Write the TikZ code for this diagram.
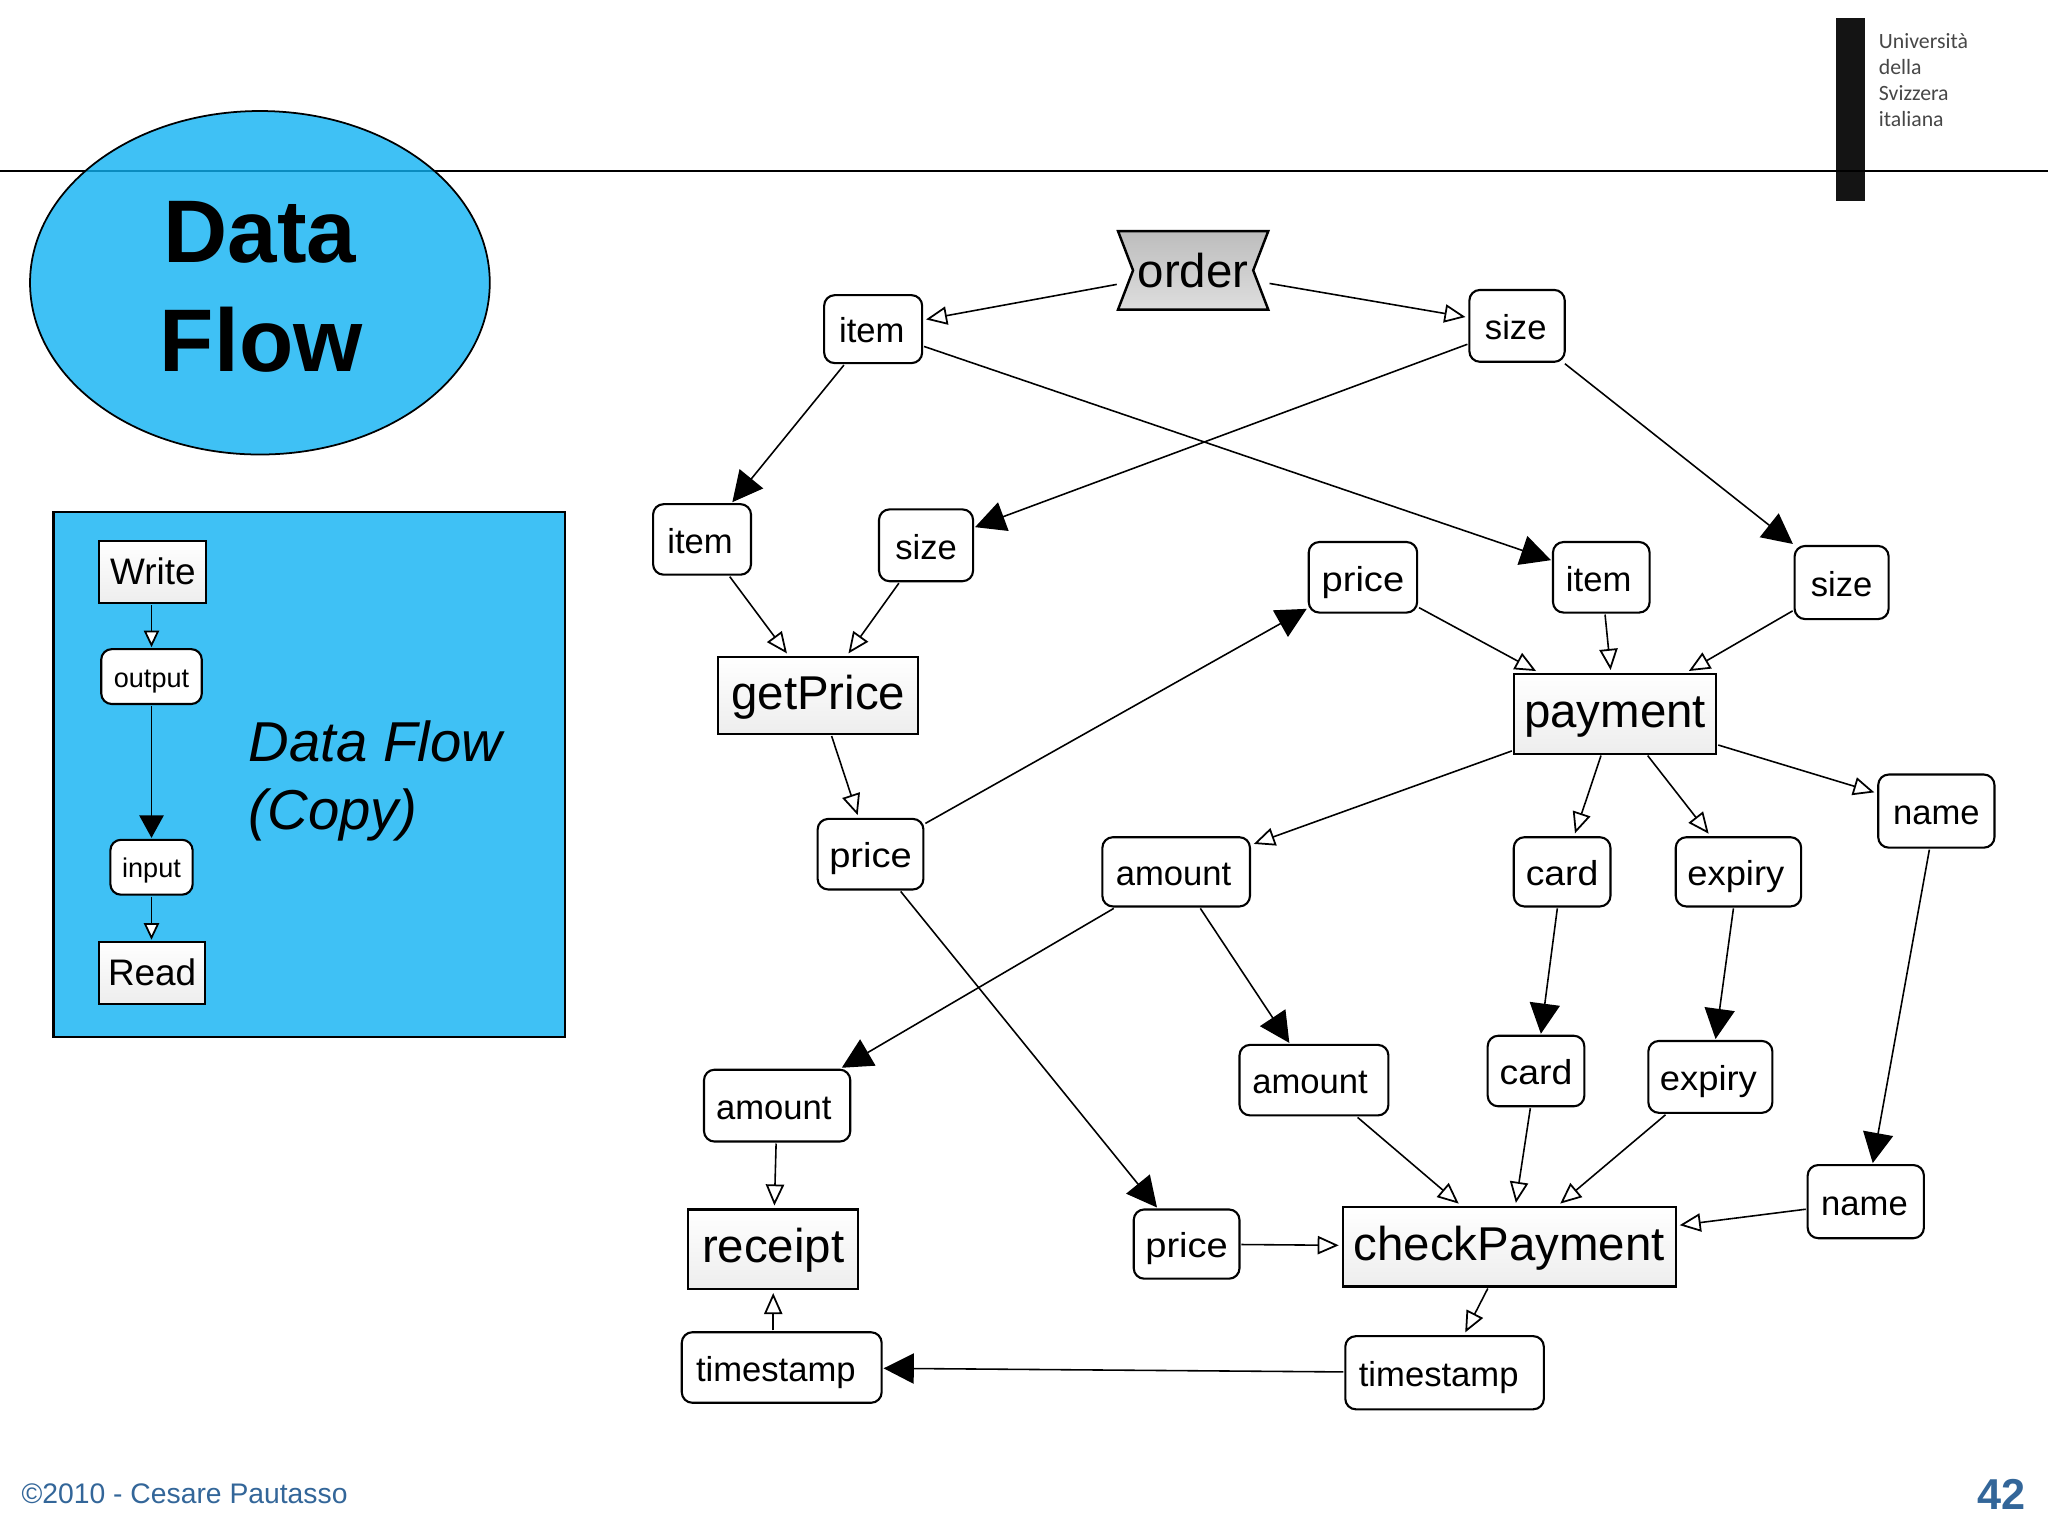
\documentclass[tikz,border=0pt]{standalone}
\usepackage{fontspec}
\setmainfont{Liberation Sans}
\newfontfamily\logofont{Carlito}
\usetikzlibrary{arrows.meta}
\def\U{0.013061cm}
\newdimen\UU \UU=0.013061cm
\definecolor{skyfill}{HTML}{3FC1F5}
\definecolor{footblue}{HTML}{336699}
\definecolor{lineteal}{HTML}{0A8CC0}
\newcommand\lft[2]{#2\kern#1\UU}
\newcommand\wide[2]{{\addfontfeatures{FakeStretch=#1}#2}}
\tikzset{
  x=0.013061cm, y=-0.013061cm,
  datanode/.style={draw=black, line width=0.6pt, rounded corners=3pt, fill=white, inner sep=0pt, outer sep=1.5*\U,
    font=\fontsize{9.85pt}{11pt}\selectfont, text height=0.78em, text depth=0em},
  smallnode/.style={datanode, font=\fontsize{7.7pt}{9pt}\selectfont, text height=0.72em, text depth=0.12em},
  actnode/.style={draw=black, line width=0.6pt, top color=white, bottom color=black!7, inner sep=0pt, outer sep=1.5*\U,
    font=\fontsize{13.5pt}{15pt}\selectfont, text height=0.77em, text depth=0em},
  ctlnode/.style={actnode, font=\fontsize{10.5pt}{12pt}\selectfont, text height=0.72em},
  hourfill/.style={top color=black!26, bottom color=black!13},
  openflow/.style={line width=0.45pt, shorten >=1.5*\U, -{Triangle[fill=white, length=6pt, width=5.2pt, line width=0.5pt]}},
  fullflow/.style={line width=0.45pt, -{Triangle[length=8.6pt, width=8.6pt]}},
  legendopen/.style={line width=0.5pt, -{Triangle[fill=white, length=4.7pt, width=4.3pt, line width=0.5pt]}},
  legendfull/.style={line width=0.5pt, -{Triangle[length=6.4pt, width=6.9pt]}},
  headtext/.style={font=\fontsize{25.3pt}{25.3pt}\bfseries\selectfont, inner sep=0pt, anchor=base},
  slidetext/.style={font=\fontsize{16pt}{16pt}\itshape\selectfont, inner sep=0pt, anchor=base west},
  logotext/.style={font=\fontsize{6.2pt}{6.3pt}\logofont\selectfont, text=black!72, inner sep=0pt, anchor=base west},
  foottext/.style={text=footblue, inner sep=0pt}
}
\begin{document}
\begin{tikzpicture}
\useasboundingbox (0,0) rectangle (1568,1176);
\fill[white] (0,0) rectangle (1568,1176);
% header
\fill[black!92] (1405.5,14) rectangle (1428,154);
\draw[line width=0.75pt] (0,131) -- (1568,131);
\node[logotext] (l1) at (1438,37) {Università};
\node[logotext] (l2) at (1438,57) {della};
\node[logotext] (l3) at (1438,77) {Svizzera};
\node[logotext] (l4) at (1438,97) {italiana};
% title bubble
\fill[skyfill] (199,216.5) ellipse [x radius=176, y radius=131.5];
\draw[line width=0.75pt, lineteal] (65.2,131) -- (332.8,131);
\draw[line width=0.5pt] (199,216.5) ellipse [x radius=176, y radius=131.5];
\node[headtext] (t1) at (199,201) {Data};
\node[headtext] (t2) at (200,284.6) {Flow};
% legend
\draw[line width=0.6pt, fill=skyfill] (41,392) rectangle (432.5,794);
\node[ctlnode, minimum width=82*\U, minimum height=48*\U] (write) at (117,438) {Write};
\node[smallnode, minimum width=77*\U, minimum height=42*\U] (output) at (116,518) {output};
\node[smallnode, minimum width=63*\U, minimum height=42*\U] (input) at (116,664) {input};
\node[ctlnode, minimum width=81*\U, minimum height=48*\U] (read) at (116.5,745) {Read};
\draw[legendopen] (output |- write.south) -- (output);
\draw[legendfull] (output) -- (input);
\draw[legendopen] (input) -- (input |- read.north);
\node[slidetext] (c1) at (190,583) {Data Flow};
\node[slidetext] (c2) at (190,635) {(Copy)};
% order
\shade[hourfill] (856,177) -- (971,177) -- (959.5,207) -- (971,237) -- (856,237) -- (867.5,207) -- cycle;
\draw[line width=0.7pt] (856,177) -- (971,177) -- (959.5,207) -- (971,237) -- (856,237) -- (867.5,207) -- cycle;
\node[inner sep=0pt, outer sep=1*\U, minimum width=115*\U, minimum height=60*\U, font=\fontsize{13.5pt}{15pt}\selectfont, text height=0.96em, text depth=0em] (order) at (913.5,207) {order};
% data
\node[datanode, minimum width=75*\U, minimum height=52*\U] (item1) at (668.5,252) {\lft{2}{item}};
\node[datanode, minimum width=73*\U, minimum height=55*\U] (size1) at (1161.5,249.5) {\lft{2}{size}};
\node[datanode, minimum width=75*\U, minimum height=54*\U] (item2) at (537.5,413) {\lft{3}{item}};
\node[datanode, minimum width=72*\U, minimum height=55*\U] (size2) at (709,417.5) {size};
\node[datanode, minimum width=83*\U, minimum height=54*\U] (price1) at (1043.5,442) {\wide{1.1}{price}};
\node[datanode, minimum width=74*\U, minimum height=54*\U] (item3) at (1226,442) {\lft{4}{item}};
\node[datanode, minimum width=72*\U, minimum height=56*\U] (size3) at (1410,446) {size};
\node[datanode, minimum width=89*\U, minimum height=56*\U] (name1) at (1482.5,621) {name};
\node[datanode, minimum width=81*\U, minimum height=54*\U] (price2) at (666.5,654) {\wide{1.1}{price}};
\node[datanode, minimum width=113*\U, minimum height=53*\U] (amount1) at (900.5,667.5) {\lft{4}{amount}};
\node[datanode, minimum width=74*\U, minimum height=53*\U] (card1) at (1196,667.5) {\wide{1.08}{card}};
\node[datanode, minimum width=96*\U, minimum height=53*\U] (expiry1) at (1331,667.5) {\lft{4}{\wide{1.05}{expiry}}};
\node[datanode, minimum width=114*\U, minimum height=54*\U] (amount3) at (1006,827) {\lft{6}{amount}};
\node[datanode, minimum width=74*\U, minimum height=54*\U] (card2) at (1176,820) {\wide{1.08}{card}};
\node[datanode, minimum width=95*\U, minimum height=55*\U] (expiry2) at (1309.5,824.5) {\lft{3}{\wide{1.05}{expiry}}};
\node[datanode, minimum width=112*\U, minimum height=55*\U] (amount2) at (595,846.5) {\lft{5}{amount}};
\node[datanode, minimum width=89*\U, minimum height=56*\U] (name2) at (1428.5,920) {\lft{2}{name}};
\node[datanode, minimum width=81*\U, minimum height=53*\U] (price3) at (908.5,952.5) {\wide{1.1}{price}};
\node[datanode, minimum width=153*\U, minimum height=54*\U] (stamp1) at (598.5,1047) {\lft{9}{timestamp}};
\node[datanode, minimum width=152*\U, minimum height=56*\U] (stamp2) at (1106,1051) {\lft{9}{timestamp}};
% activities
\node[actnode, minimum width=153*\U, minimum height=59*\U] (getprice) at (626.5,532.5) {getPrice};
\node[actnode, minimum width=155*\U, minimum height=61*\U] (payment) at (1236.5,546.5) {payment};
\node[actnode, minimum width=130*\U, minimum height=61*\U] (receipt) at (592,956.5) {receipt};
\node[actnode, minimum width=255*\U, minimum height=61*\U] (check) at (1155.5,954.5) {checkPayment};
% edges
\draw[openflow] (order) -- (item1);
\draw[openflow] (order) -- (size1);
\draw[fullflow] (item1) -- (item2);
\draw[fullflow] (size1) -- (size2);
\draw[fullflow] (item1) -- (item3);
\draw[fullflow] (size1) -- (size3);
\draw[openflow] (item2) -- (getprice);
\draw[openflow] (size2) -- (getprice);
\draw[openflow] (getprice) -- (price2);
\draw[fullflow] (price2) -- (price1);
\draw[openflow] (price1) -- (payment);
\draw[openflow] (item3) -- (payment);
\draw[openflow] (size3) -- (payment);
\draw[openflow] (payment) -- (amount1);
\draw[openflow] (payment) -- (card1);
\draw[openflow] (payment) -- (expiry1);
\draw[openflow] (payment) -- (name1);
\draw[fullflow] (amount1) -- (amount2);
\draw[fullflow] (amount1) -- (amount3);
\draw[fullflow] (card1) -- (card2);
\draw[fullflow] (expiry1) -- (expiry2);
\draw[fullflow] (name1) -- (name2);
\draw[openflow] (amount2) -- (receipt);
\draw[openflow] (amount3) -- (check);
\draw[openflow] (card2) -- (check);
\draw[openflow] (expiry2) -- (check);
\draw[fullflow] (price2) -- (price3);
\draw[openflow] (price3) -- (check);
\draw[openflow] (name2) -- (check);
\draw[openflow] (check) -- (stamp2);
\draw[fullflow] (stamp2) -- (stamp1);
\draw[openflow] (receipt |- stamp1.north) -- (receipt);
% footer
\node[foottext, anchor=base west, font=\fontsize{8.05pt}{10pt}\selectfont] (foot) at (16,1151) {©2010 - Cesare Pautasso};
\node[foottext, anchor=base east, font=\fontsize{12.3pt}{14pt}\bfseries\selectfont] (page) at (1551,1156) {42};
\end{tikzpicture}
\end{document}
